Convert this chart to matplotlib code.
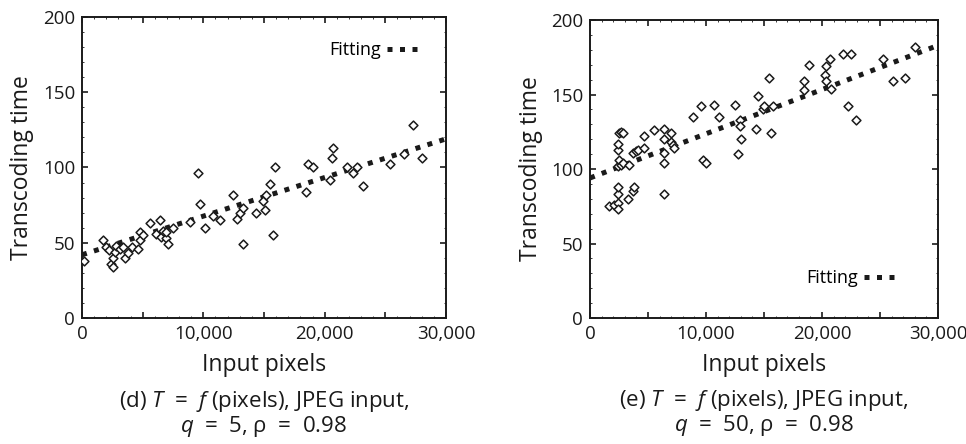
import numpy as np
import matplotlib.pyplot as plt
from matplotlib.ticker import MultipleLocator, FuncFormatter

plt.rcParams['font.family'] = ['Open Sans', 'DejaVu Sans']
plt.rcParams['mathtext.fontset'] = 'custom'
plt.rcParams['mathtext.it'] = 'Open Sans:italic'
plt.rcParams['mathtext.rm'] = 'Open Sans'

# (d) q = 5
left_x = [200, 1700, 2000, 2200, 2420, 2560, 2560, 2700, 2830, 3100, 3400, 3520,
          3800, 4100, 4620, 4760, 4760, 5000, 5580, 6130, 6400, 6545, 6700, 6960,
          7100, 6900, 7500, 8880, 9570, 9710, 10120, 10800, 11360, 12460, 12740,
          13000, 13290, 13300, 14380, 14930, 15070, 15200, 15480, 15760, 15900,
          18500, 18650, 19060, 20430, 20570, 20700, 21800, 22360, 22700, 23180,
          25380, 26500, 27300, 28000]
left_y = [38, 52, 47, 45, 36, 34, 40, 44, 48, 46, 47, 40, 43, 47, 46, 57, 52, 55,
          63, 56, 65, 54, 58, 53, 49, 57, 60, 64, 96, 76, 60, 68, 65, 82, 66, 70,
          49, 73, 70, 78, 72, 82, 89, 55, 100, 84, 102, 100, 92, 106, 113, 100, 96,
          100, 88, 102, 109, 128, 106]

# (e) q = 50
right_x = [1670, 2100, 2390, 2390, 2390, 2390, 2390, 2390, 2390, 2500, 2650, 2800,
           2500, 2650, 2800, 3250, 3680, 3820, 3390, 3680, 3970, 4150, 4690, 4690,
           5550, 6410, 6410, 6410, 6410, 6410, 6990, 6990, 7130, 7280, 8860, 9580,
           9720, 10010, 10730, 11160, 12460, 12740, 12900, 13030, 12900, 14320,
           14460, 14890, 15030, 15470, 15610, 15750, 18490, 18490, 18920, 20220,
           20360, 20650, 20360, 20790, 21800, 22520, 22230, 22950, 25250, 26110,
           27120, 27980]
right_y = [75, 76, 77, 73, 83, 88, 102, 113, 117, 124, 125, 124, 106, 103, 104, 80,
           85, 88, 103, 111, 112, 113, 122, 114, 126, 127, 120, 111, 104, 83, 124,
           118, 116, 114, 135, 142, 106, 104, 143, 135, 143, 110, 133, 120, 129,
           127, 149, 140, 142, 161, 124, 142, 159, 153, 170, 163, 169, 174, 159,
           154, 177, 177, 142, 133, 174, 159, 161, 182]

fit_x = [0, 30000]
left_fit = [42, 119]
right_fit = [94, 183]

xticks = [0, 10000, 20000, 30000]

panels = [
    (left_x, left_y, left_fit, [0.0849, 0.2838, 0.3768, 0.678],
     "(d) $T$  =  $f$ (pixels), JPEG input,\n$q$  =  5, \u03c1  =  0.98", (0.922, 0.89)),
    (right_x, right_y, right_fit, [0.6108, 0.2838, 0.3602, 0.671],
     "(e) $T$  =  $f$ (pixels), JPEG input,\n$q$  =  50, \u03c1  =  0.98", (0.876, 0.134)),
]

fig = plt.figure(figsize=(9.66, 4.44), dpi=100)
ink = '#1a1a1a'

for xs, ys, fit, rect, caption, leg_pos in panels:
    ax = fig.add_axes(rect)
    ax.scatter(xs, ys, marker='D', s=20, facecolors='white', edgecolors=ink,
               linewidths=1.1, zorder=3)
    ax.plot(fit_x, fit, color=ink, linewidth=3.6, linestyle=(0, (1, 1.5)),
            dash_capstyle='butt', label='Fitting', zorder=2)
    ax.set_xlim(0, 30000)
    ax.set_ylim(0, 200)
    ax.xaxis.set_major_locator(MultipleLocator(5000))
    ax.xaxis.set_minor_locator(MultipleLocator(1000))
    ax.yaxis.set_major_locator(MultipleLocator(50))
    ax.yaxis.set_minor_locator(MultipleLocator(10))
    ax.xaxis.set_major_formatter(FuncFormatter(
        lambda v, p: f"{int(v):,}" if v in xticks else ""))
    ax.tick_params(which='both', direction='in', top=True, right=True,
                   color=ink, labelsize=13.5, labelcolor=ink)
    ax.tick_params(which='major', length=4, width=1.2, pad=5)
    ax.tick_params(which='minor', length=1.5, width=0.6)
    for lab in ax.get_xticklabels() + ax.get_yticklabels():
        lab.set_fontweight('medium')
    for sp in ax.spines.values():
        sp.set_linewidth(1.4)
        sp.set_color(ink)
    ax.set_xlabel('Input pixels', fontsize=16.5, color=ink, labelpad=7,
                  fontweight='medium')
    ax.set_ylabel('Transcoding time', fontsize=16.5, color=ink, labelpad=6,
                  fontweight='medium')
    leg = ax.legend(loc='center right', bbox_to_anchor=leg_pos, frameon=False,
                    markerfirst=False, fontsize=13, handlelength=1.7,
                    handletextpad=0.35, borderpad=0, borderaxespad=0)
    for t in leg.get_texts():
        t.set_fontweight('medium')
    ax.text(0.5, -0.235, caption, transform=ax.transAxes, ha='center', va='top',
            fontsize=16, color=ink, linespacing=1.0, fontweight='medium')

plt.savefig('out.png', dpi=100)
plt.close()
